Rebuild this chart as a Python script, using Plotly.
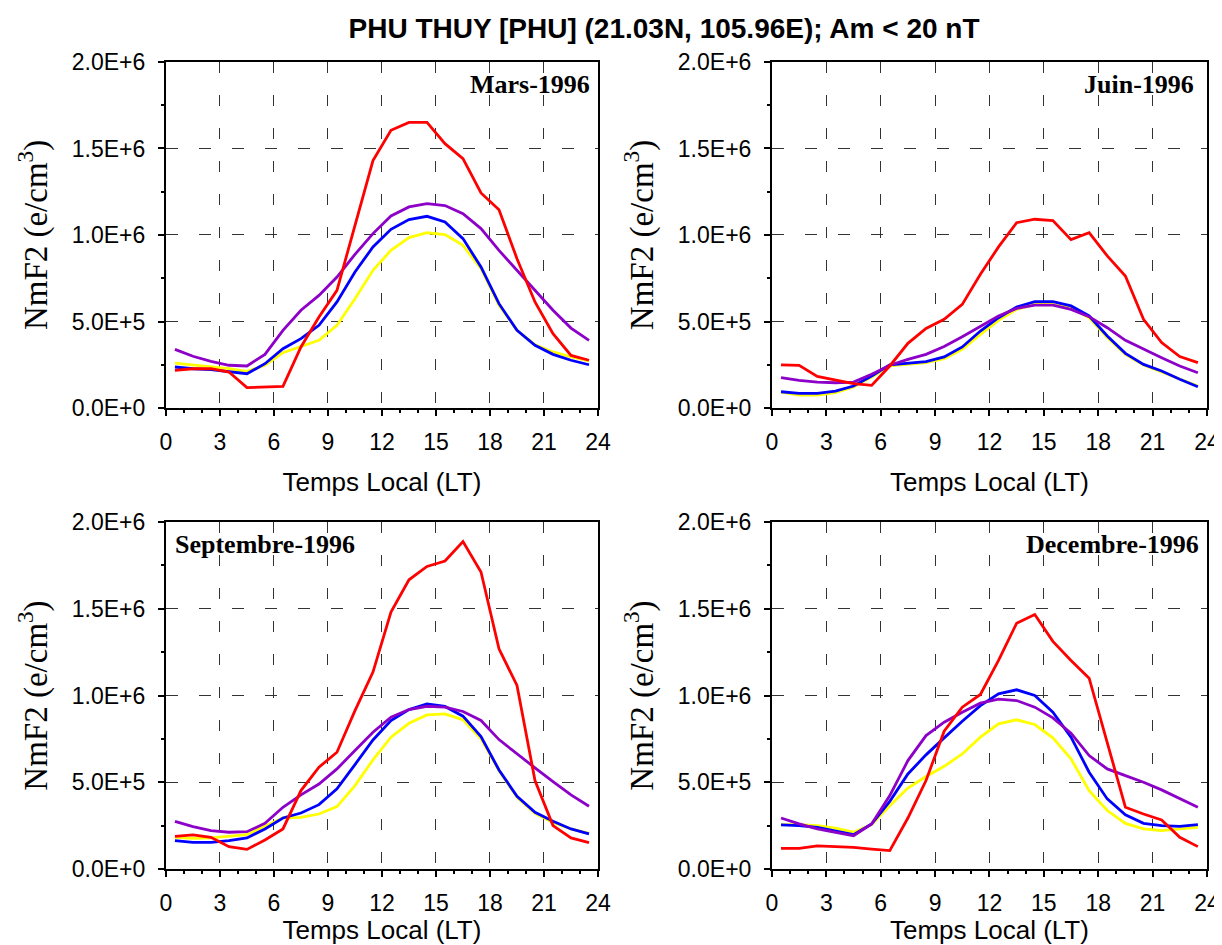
import plotly.graph_objects as go

# Local time (hour centres)
hours = [0.5, 1.5, 2.5, 3.5, 4.5, 5.5, 6.5, 7.5, 8.5, 9.5, 10.5, 11.5,
         12.5, 13.5, 14.5, 15.5, 16.5, 17.5, 18.5, 19.5, 20.5, 21.5, 22.5, 23.5]

# NmF2 values in units of 1E6 e/cm3
mars_red = [0.218, 0.227, 0.227, 0.208, 0.118, 0.121, 0.125, 0.353, 0.526, 0.680, 1.050, 1.430,
            1.605, 1.651, 1.651, 1.528, 1.441, 1.243, 1.146, 0.863, 0.613, 0.430, 0.304, 0.276]
mars_blue = [0.237, 0.227, 0.222, 0.212, 0.198, 0.256, 0.343, 0.401, 0.478, 0.613, 0.786, 0.931,
             1.033, 1.089, 1.108, 1.075, 0.979, 0.815, 0.603, 0.449, 0.362, 0.310, 0.276, 0.250]
mars_purple = [0.339, 0.299, 0.270, 0.247, 0.243, 0.310, 0.449, 0.565, 0.651, 0.757, 0.888, 1.008,
               1.110, 1.162, 1.181, 1.170, 1.123, 1.037, 0.911, 0.796, 0.684, 0.565, 0.462, 0.391]
mars_yellow = [0.260, 0.249, 0.241, 0.227, 0.212, 0.247, 0.320, 0.356, 0.391, 0.478, 0.632, 0.796,
               0.911, 0.985, 1.013, 1.002, 0.940, 0.805, 0.593, 0.449, 0.366, 0.324, 0.295, 0.272]

juin_red = [0.249, 0.247, 0.183, 0.160, 0.141, 0.131, 0.243, 0.374, 0.460, 0.513, 0.599, 0.773,
            0.931, 1.071, 1.091, 1.083, 0.973, 1.013, 0.879, 0.763, 0.513, 0.378, 0.297, 0.262]
juin_blue = [0.094, 0.085, 0.085, 0.098, 0.127, 0.185, 0.249, 0.258, 0.268, 0.295, 0.353, 0.445,
             0.522, 0.584, 0.615, 0.615, 0.590, 0.532, 0.416, 0.316, 0.252, 0.214, 0.166, 0.123]
juin_purple = [0.175, 0.160, 0.150, 0.146, 0.150, 0.195, 0.247, 0.281, 0.310, 0.355, 0.412, 0.474,
               0.532, 0.576, 0.595, 0.595, 0.570, 0.528, 0.464, 0.391, 0.339, 0.291, 0.243, 0.204]
juin_yellow = [0.092, 0.075, 0.075, 0.089, 0.121, 0.179, 0.243, 0.252, 0.262, 0.285, 0.339, 0.426,
               0.507, 0.570, 0.599, 0.599, 0.580, 0.522, 0.407, 0.310, 0.249, 0.208, 0.166, 0.127]

sept_red = [0.188, 0.197, 0.183, 0.129, 0.113, 0.167, 0.231, 0.452, 0.587, 0.673, 0.913, 1.135,
            1.481, 1.667, 1.744, 1.775, 1.888, 1.712, 1.269, 1.058, 0.510, 0.250, 0.179, 0.152]
sept_blue = [0.163, 0.154, 0.154, 0.163, 0.179, 0.231, 0.294, 0.323, 0.371, 0.462, 0.602, 0.744,
             0.856, 0.919, 0.952, 0.937, 0.881, 0.763, 0.571, 0.419, 0.327, 0.275, 0.231, 0.202]
sept_purple = [0.275, 0.244, 0.221, 0.212, 0.215, 0.263, 0.356, 0.427, 0.490, 0.577, 0.683, 0.788,
               0.875, 0.919, 0.938, 0.933, 0.908, 0.856, 0.746, 0.663, 0.583, 0.504, 0.427, 0.362]
sept_yellow = [0.183, 0.177, 0.179, 0.187, 0.198, 0.246, 0.294, 0.298, 0.317, 0.360, 0.481, 0.629,
               0.760, 0.840, 0.888, 0.894, 0.860, 0.750, 0.567, 0.413, 0.321, 0.269, 0.231, 0.206]

dec_red = [0.119, 0.119, 0.133, 0.129, 0.125, 0.115, 0.106, 0.294, 0.510, 0.794, 0.933, 1.006,
           1.202, 1.417, 1.467, 1.312, 1.202, 1.100, 0.731, 0.356, 0.317, 0.283, 0.183, 0.129]
dec_blue = [0.254, 0.250, 0.240, 0.221, 0.198, 0.260, 0.390, 0.548, 0.658, 0.756, 0.852, 0.942,
            1.010, 1.033, 1.000, 0.904, 0.760, 0.558, 0.404, 0.312, 0.263, 0.250, 0.246, 0.256]
dec_purple = [0.294, 0.260, 0.231, 0.212, 0.192, 0.260, 0.423, 0.625, 0.769, 0.846, 0.904, 0.956,
              0.979, 0.971, 0.933, 0.871, 0.783, 0.654, 0.577, 0.538, 0.500, 0.456, 0.408, 0.356]
dec_yellow = [0.256, 0.256, 0.250, 0.235, 0.212, 0.256, 0.365, 0.467, 0.533, 0.592, 0.663, 0.760,
              0.837, 0.860, 0.833, 0.756, 0.635, 0.452, 0.337, 0.263, 0.231, 0.221, 0.231, 0.240]

months = ["Mars-1996", "Juin-1996", "Septembre-1996", "Decembre-1996"]
series = [
    [mars_red, mars_blue, mars_purple, mars_yellow],
    [juin_red, juin_blue, juin_purple, juin_yellow],
    [sept_red, sept_blue, sept_purple, sept_yellow],
    [dec_red, dec_blue, dec_purple, dec_yellow],
]
y_ticks = [0, 0.5e6, 1.0e6, 1.5e6, 2.0e6]
y_ticktext = ["0.0E+0", "5.0E+5", "1.0E+6", "1.5E+6", "2.0E+6"]
x_ticks = [0, 3, 6, 9, 12, 15, 18, 21, 24]

colors = ["#FF0000", "#0000FF", "#8C00C8", "#FFFF00"]
# draw order: yellow first, red on top
draw_order = [3, 1, 2, 0]

# the page body keeps an 8px margin, so the figure is 8px smaller and domains are shifted
x_domains = [[0.1301, 0.4860], [0.6293, 0.9876], [0.1301, 0.4860], [0.6293, 0.9876]]
y_domains = [[0.5731, 0.9424], [0.5731, 0.9424], [0.0811, 0.4514], [0.0811, 0.4514]]

fig = go.Figure()

for p in range(4):
    xa = "x" if p == 0 else f"x{p + 1}"
    ya = "y" if p == 0 else f"y{p + 1}"
    for k in draw_order:
        fig.add_trace(go.Scatter(
            x=hours,
            y=[v * 1e6 for v in series[p][k]],
            mode="lines",
            line=dict(color=colors[k], width=2.8),
            xaxis=xa, yaxis=ya,
            showlegend=False,
        ))

axis_font = dict(family="Liberation Sans, Arial", size=23, color="black")

for p in range(4):
    sx = "" if p == 0 else str(p + 1)
    fig.layout["xaxis" + sx] = dict(
        domain=x_domains[p], anchor="y" + sx, range=[0, 24], automargin=False,
        tickmode="array", tickvals=x_ticks,
        ticks="outside", ticklen=6, tickwidth=1.5, tickcolor="black",
        minor=dict(dtick=1, ticks="outside", ticklen=3, tickwidth=1.5, tickcolor="black"),
        showline=True, linewidth=2, linecolor="black", mirror=True,
        showgrid=True, gridcolor="#333333", gridwidth=1, griddash="11px,22px",
        zeroline=False, tickfont=axis_font, ticklabelstandoff=6, ticklabeloverflow="allow",
        title=dict(text="Temps Local (LT)", font=dict(family="Liberation Sans, Arial", size=26, color="black"), standoff=19),
    )
    fig.layout["yaxis" + sx] = dict(
        domain=y_domains[p], anchor="x" + sx, range=[0, 2.0e6], automargin=False,
        tickmode="array", tickvals=y_ticks, ticktext=y_ticktext,
        ticks="outside", ticklen=6, tickwidth=1.5, tickcolor="black",
        minor=dict(tickvals=[0.25e6, 0.75e6, 1.25e6, 1.75e6], ticks="outside", ticklen=3, tickwidth=1.5, tickcolor="black"),
        showline=True, linewidth=2, linecolor="black", mirror=True,
        showgrid=True, gridcolor="#333333", gridwidth=1, griddash="12px,21px",
        zeroline=False, tickfont=axis_font, ticklabelstandoff=8,
        title=dict(text="NmF2 (e/cm<sup>3</sup>)", font=dict(family="Liberation Serif, Times New Roman, serif", size=33, color="black"), standoff=14),
    )
    # overlay axes that add the inner half of the major ticks (ticks cross the frame)
    fig.layout["xaxis" + str(p + 5)] = dict(
        domain=x_domains[p], anchor="y" + sx, overlaying="x" + sx, range=[0, 24], automargin=False,
        tickmode="array", tickvals=x_ticks, ticks="inside", ticklen=6, tickwidth=1.5, tickcolor="black",
        showticklabels=False, showgrid=False, showline=False, zeroline=False,
    )
    fig.layout["yaxis" + str(p + 5)] = dict(
        domain=y_domains[p], anchor="x" + sx, overlaying="y" + sx, range=[0, 2.0e6], automargin=False,
        tickmode="array", tickvals=y_ticks, ticks="inside", ticklen=6, tickwidth=1.5, tickcolor="black",
        showticklabels=False, showgrid=False, showline=False, zeroline=False,
    )

label_pos = [(0.985, "right", 0.936), (0.975, "right", 0.936), (0.016, "left", 0.934), (0.986, "right", 0.934)]
for p in range(4):
    sx = "" if p == 0 else str(p + 1)
    lx, anch, ly = label_pos[p]
    fig.add_annotation(
        text="<b>" + months[p] + "</b>", xref=f"x{sx} domain", yref=f"y{sx} domain",
        x=lx, y=ly, xanchor=anch, yanchor="middle", showarrow=False,
        font=dict(family="Liberation Serif, Times New Roman, serif", size=26, color="black"),
    )

fig.update_layout(
    width=1214, height=937,
    margin=dict(l=0, r=0, t=0, b=0),
    paper_bgcolor="white", plot_bgcolor="white",
    title=dict(text="<b>PHU THUY [PHU] (21.03N, 105.96E); Am &lt; 20 nT</b>",
               x=0.5404, xanchor="center", y=0.9787, yanchor="middle",
               font=dict(family="Liberation Sans, Arial", size=28, color="black")),
)

fig.write_html("out.html")
